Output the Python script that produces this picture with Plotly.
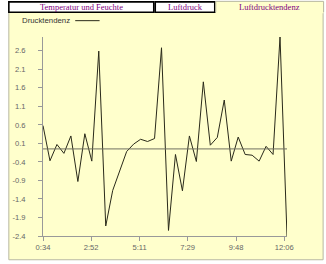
import plotly.graph_objects as go

# ---- data ----
series_name = "Drucktendenz"
start_minute = 34          # 0:34
step_minutes = 20
values = [0.58, -0.37, 0.07, -0.17, 0.30, -0.93, 0.36, -0.38, 2.59, -2.13,
          -1.17, -0.65, -0.12, 0.08, 0.21, 0.15, 0.23, 2.68, -2.25, -0.20,
          -1.18, 0.30, -0.39, 1.76, 0.05, 0.26, 1.27, -0.38, 0.27, -0.20,
          -0.22, -0.38, 0.02, -0.20, 2.97, -2.40]
x_tick_labels = ["0:34", "2:52", "5:11", "7:29", "9:48", "12:06"]
y_tick_values = [-2.4, -1.9, -1.4, -0.9, -0.4, 0.1, 0.6, 1.1, 1.6, 2.1, 2.6]
reference_value = -0.05
tab_labels = ["Temperatur und Feuchte", "Luftdruck", "Luftdrucktendenz"]

minutes = [start_minute + i * step_minutes for i in range(len(values))]

def to_min(s):
    h, m = s.split(":")
    return int(h) * 60 + int(m)

x_tick_vals = [to_min(s) for s in x_tick_labels]

# ---- layout geometry (pixels) ----
W, H = 326, 264
L, R, T, B = 37, 39, 37, 26
PW, PH = W - L - R, H - T - B

def px(x):
    return (x - L) / PW

def py(y):
    return (H - B - y) / PH

YELLOW = "#FFFFCC"

fig = go.Figure()
fig.add_trace(go.Scatter(x=minutes, y=values, mode="lines", name=series_name,
                         line=dict(color="#2a2a1a", width=1), showlegend=False,
                         hoverinfo="skip"))

shapes = []
# panel background
shapes.append(dict(type="rect", xref="paper", yref="paper",
                   x0=px(2), x1=px(324), y0=py(262), y1=py(12),
                   fillcolor=YELLOW, line=dict(color="#b8b8a0", width=1), layer="below"))
# tabs
tab_boxes = [(2, 150.5), (152, 213), (214, 324.5)]
for i, (a, b) in enumerate(tab_boxes):
    if i < 2:
        shapes.append(dict(type="rect", xref="paper", yref="paper",
                           x0=px(a), x1=px(b), y0=py(12), y1=py(1.5),
                           fillcolor="white", line=dict(color="black", width=1.6),
                           layer="below"))
    else:
        shapes.append(dict(type="rect", xref="paper", yref="paper",
                           x0=px(a), x1=px(b), y0=py(13), y1=py(1),
                           fillcolor=YELLOW, line=dict(color=YELLOW, width=0),
                           layer="below"))
        shapes.append(dict(type="path", xref="paper", yref="paper",
                           path=f"M {px(a)} {py(12)} L {px(a)} {py(1)} L {px(b)} {py(1)} L {px(b)} {py(12)}",
                           line=dict(color="#b8b8a0", width=1), layer="below"))
# reference line
shapes.append(dict(type="line", xref="paper", yref="y", x0=0, x1=1,
                   y0=reference_value, y1=reference_value,
                   line=dict(color="#707060", width=1)))
# legend sample line
shapes.append(dict(type="line", xref="paper", yref="paper",
                   x0=px(70), x1=px(95), y0=py(20.5), y1=py(20.5),
                   line=dict(color="#2a2a1a", width=1)))

annotations = []
for (a, b), lab in zip(tab_boxes, tab_labels):
    annotations.append(dict(xref="paper", yref="paper", x=px((a + b) / 2), y=py(7),
                            text=lab, showarrow=False, xanchor="center", yanchor="middle",
                            font=dict(family="Liberation Serif", size=8.5, color="#800080")))
annotations.append(dict(xref="paper", yref="paper", x=px(13), y=py(20.5),
                        text=series_name, showarrow=False, xanchor="left", yanchor="middle",
                        font=dict(family="Liberation Sans", size=7.8, color="#333333")))

fig.update_layout(
    width=W, height=H, margin=dict(l=L, r=R, t=T, b=B, pad=0),
    paper_bgcolor="white", plot_bgcolor=YELLOW,
    shapes=shapes, annotations=annotations,
    font=dict(family="Liberation Sans", size=7.6, color="#666666"),
    xaxis=dict(range=[minutes[0], minutes[-1]], tickvals=x_tick_vals, ticktext=x_tick_labels,
               showgrid=False, zeroline=False, showline=True, linecolor="#999999",
               linewidth=1, ticks="outside", ticklen=4, tickcolor="#999999",
               tickfont=dict(size=7.6, color="#666666")),
    yaxis=dict(range=[min(values), max(values)], tickvals=y_tick_values,
               ticktext=[f"{v:.1f}" for v in y_tick_values],
               showgrid=False, zeroline=False, showline=True, linecolor="#999999",
               linewidth=1, ticks="outside", ticklen=4, tickcolor="#999999",
               ticklabelstandoff=11,
               tickfont=dict(size=7.6, color="#666666")),
)

fig.write_html("out.html")
